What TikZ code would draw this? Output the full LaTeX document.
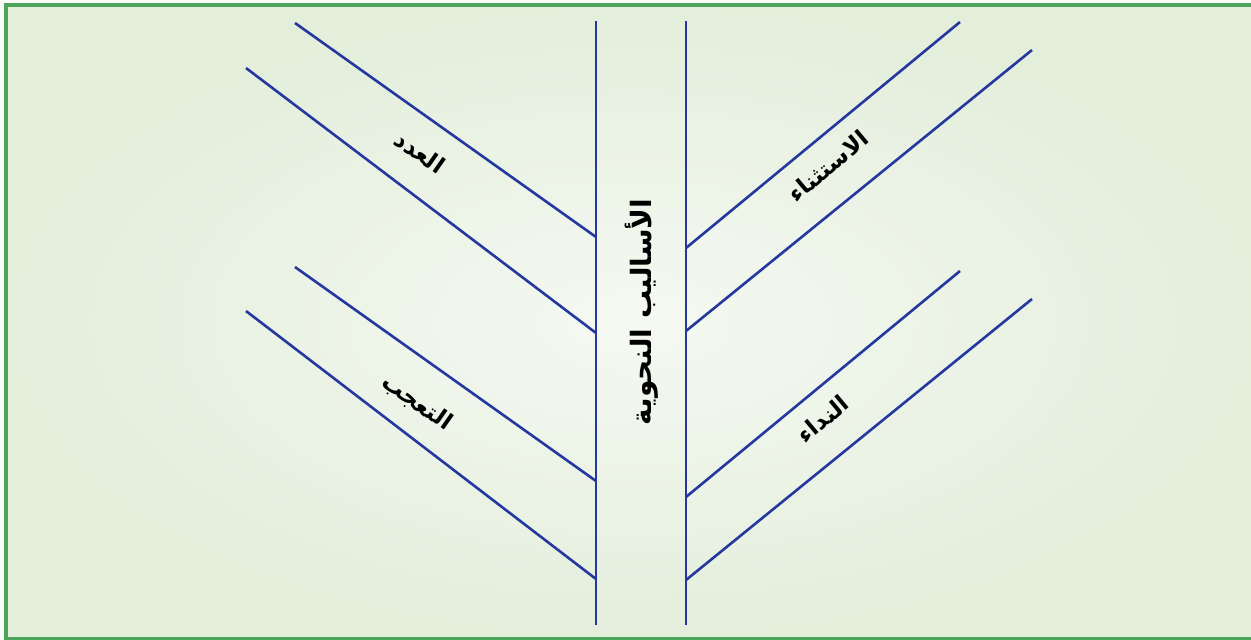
\documentclass[tikz,border=0pt]{standalone}
\usepackage{fontspec}
\TeXXeTstate=1
\newfontfamily\arabicfont[Script=Arabic]{DejaVu Sans}
\definecolor{bgout}{HTML}{E3EEDB}
\definecolor{bgin}{HTML}{F5F9F2}
\definecolor{frame}{HTML}{4CA35A}
\definecolor{branch}{HTML}{2438A0}
\tikzset{
  branchline/.style={draw=branch, line width=2.6pt},
  lbl/.style={font=\arabicfont\bfseries\fontsize{23}{26}\selectfont, text=black, inner sep=0pt},
  title/.style={font=\arabicfont\bfseries\fontsize{28}{32}\selectfont, text=black, inner sep=0pt}
}
\begin{document}
\begin{tikzpicture}[x=1pt,y=-1pt]
\useasboundingbox (0,0) rectangle (1251,640);
\fill[bgin!70!white] (0,0) rectangle (1251,640);
\shade[inner color=bgin, outer color=bgout, shading=radial] (6,5) rectangle (1260,639);
\draw[frame, line width=3.2pt] (1260,5) -- (6,5) -- (6,639) -- (1260,639);
% trunk
\coordinate (lt) at (596,21);
\coordinate (lb) at (596,625);
\coordinate (rt) at (686,21);
\coordinate (rb) at (686,625);
\draw[branchline] (lt) -- (lb);
\draw[branchline] (rt) -- (rb);
% left branches
\coordinate (a1) at (295,23);  \coordinate (a2) at (596,237);
\coordinate (b1) at (246,68);  \coordinate (b2) at (596,333);
\coordinate (c1) at (295,267); \coordinate (c2) at (596,481);
\coordinate (d1) at (246,311); \coordinate (d2) at (596,579);
\draw[branchline] (a1) -- (a2);
\draw[branchline] (b1) -- (b2);
\draw[branchline] (c1) -- (c2);
\draw[branchline] (d1) -- (d2);
% right branches
\coordinate (e1) at (960,22);  \coordinate (e2) at (686,248);
\coordinate (f1) at (1032,50); \coordinate (f2) at (686,331);
\coordinate (g1) at (960,271); \coordinate (g2) at (686,497);
\coordinate (h1) at (1032,299);\coordinate (h2) at (686,580);
\draw[branchline] (e1) -- (e2);
\draw[branchline] (f1) -- (f2);
\draw[branchline] (g1) -- (g2);
\draw[branchline] (h1) -- (h2);
% labels
\node[title, rotate=90] (main) at (642,312) {\beginR الأساليب النحوية\endR};
\node[lbl, rotate=-35] (adad) at (420,152) {\beginR العدد\endR};
\node[lbl, rotate=-35] (taajjub) at (417,403) {\beginR التعجب\endR};
\node[lbl, rotate=40] (istithna) at (828,166) {\beginR الاستثناء\endR};
\node[lbl, rotate=40] (nidaa) at (823,419) {\beginR النداء\endR};
\end{tikzpicture}
\end{document}
